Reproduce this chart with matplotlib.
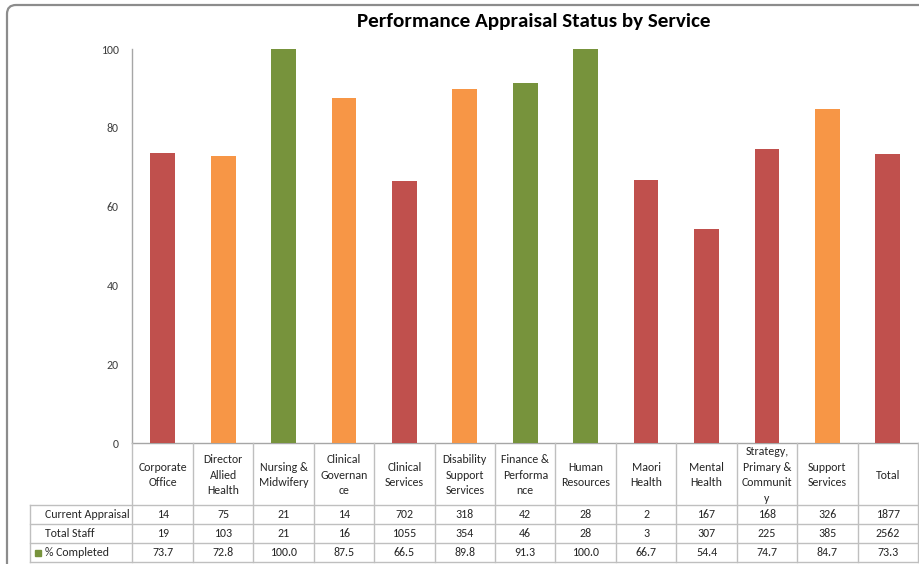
import matplotlib
matplotlib.use("Agg")
import matplotlib.pyplot as plt
from matplotlib import font_manager
from matplotlib.patches import FancyBboxPatch, Rectangle
from matplotlib.transforms import IdentityTransform

# ---------------- data ----------------
categories = ["Corporate\nOffice", "Director\nAllied\nHealth", "Nursing &\nMidwifery",
              "Clinical\nGovernan\nce", "Clinical\nServices", "Disability\nSupport\nServices",
              "Finance &\nPerforma\nnce", "Human\nResources", "Maori\nHealth", "Mental\nHealth",
              "Strategy,\nPrimary &\nCommunit\ny", "Support\nServices", "Total"]
current_appraisal = [14, 75, 21, 14, 702, 318, 42, 28, 2, 167, 168, 326, 1877]
total_staff = [19, 103, 21, 16, 1055, 354, 46, 28, 3, 307, 225, 385, 2562]
pct_completed = [73.7, 72.8, 100.0, 87.5, 66.5, 89.8, 91.3, 100.0, 66.7, 54.4, 74.7, 84.7, 73.3]
row_labels = ["Current Appraisal", "Total Staff", "% Completed"]
y_ticks = [0, 20, 40, 60, 80, 100]
title = "Performance Appraisal Status by Service"

# ---------------- styles ----------------
RED, ORANGE, GREEN = "#C0504D", "#F79646", "#77933C"
bar_colors = [RED, ORANGE, GREEN, ORANGE, RED, ORANGE, GREEN, GREEN, RED, RED, RED, ORANGE, RED]

avail = {f.name for f in font_manager.fontManager.ttflist}
FONT = "Carlito" if "Carlito" in avail else "Lato"
plt.rcParams["font.family"] = [FONT, "DejaVu Sans"]

W, H = 920, 564
fig = plt.figure(figsize=(W / 100, H / 100), dpi=100)

def fx(px):
    return px / W

def fy(py):
    return 1 - py / H

# chart border (rounded)
border = FancyBboxPatch((7, -20), 940, H - 5 + 20, boxstyle="round,pad=0,rounding_size=9",
                        transform=IdentityTransform(), fill=False, edgecolor="#8C8C8C",
                        linewidth=1.6, zorder=0)
fig.patches.append(border)

x_left, x_right = 132.5, 918
y_top, y_zero = 49, 443.3
ax = fig.add_axes([fx(x_left), fy(y_zero), fx(x_right - x_left), (y_zero - y_top) / H])
n = len(categories)
xs = list(range(n))
ax.bar(xs, pct_completed, width=0.41, color=bar_colors, edgecolor="none", zorder=3)
ax.set_xlim(-0.5, n - 0.5)
ax.set_ylim(0, 100)
ax.set_yticks(y_ticks)
ax.set_yticklabels([str(t) for t in y_ticks], fontsize=8.6, color="#404040")
ax.tick_params(axis="y", length=0, pad=10)
ax.set_xticks([])
for s in ["top", "right"]:
    ax.spines[s].set_visible(False)
ax.spines["left"].set_color("#A6A6A6")
ax.spines["bottom"].set_color("#A6A6A6")
ax.spines["left"].set_linewidth(1.0)
ax.spines["bottom"].set_linewidth(1.0)

fig.text(fx(534), fy(22), title, ha="center", va="center", fontsize=15.2,
         fontweight="bold", color="#000000")

# ---------------- data table ----------------
t_bottom = 562
tax = fig.add_axes([fx(x_left), fy(t_bottom), fx(x_right - x_left), (t_bottom - y_zero) / H])
tax.set_xlim(-0.5, n - 0.5)
tax.set_ylim(t_bottom, y_zero)
tax.axis("off")

grid_c = "#BFBFBF"
unit = (x_right - x_left) / n
label_left = -0.5 - (x_left - 30) / unit
text_left = -0.5 - (x_left - 45) / unit
row_edges = [505, 524, 543, 562]
txt_c = "#262626"
fs = 8.6

# vertical lines
for i in range(n + 1):
    tax.plot([i - 0.5, i - 0.5], [y_zero, t_bottom], color=grid_c, lw=1.0, clip_on=False)
tax.plot([label_left, label_left], [row_edges[0], t_bottom], color=grid_c, lw=1.0, clip_on=False)
for yy in row_edges:
    tax.plot([label_left, n - 0.5], [yy, yy], color=grid_c, lw=1.0, clip_on=False)

# headers
for i, c in enumerate(categories):
    tax.text(i, (y_zero + row_edges[0]) / 2 + 1, c, ha="center", va="center",
             fontsize=fs, color=txt_c, linespacing=1.5, clip_on=False)

rows = [[str(v) for v in current_appraisal], [str(v) for v in total_staff],
        [f"{v:.1f}" for v in pct_completed]]
for r, (lab, vals) in enumerate(zip(row_labels, rows)):
    yc = (row_edges[r] + row_edges[r + 1]) / 2
    tax.text(text_left, yc, lab, ha="left", va="center", fontsize=fs, color=txt_c, clip_on=False)
    for i, v in enumerate(vals):
        tax.text(i, yc, v, ha="center", va="center", fontsize=fs, color=txt_c, clip_on=False)

# legend key for % Completed
yc = (row_edges[2] + row_edges[3]) / 2
key_w = 6 / unit
tax.add_patch(Rectangle((label_left + 5 / unit, yc - 3), key_w, 6, color=GREEN, clip_on=False))

fig.savefig("out.png", dpi=100)
